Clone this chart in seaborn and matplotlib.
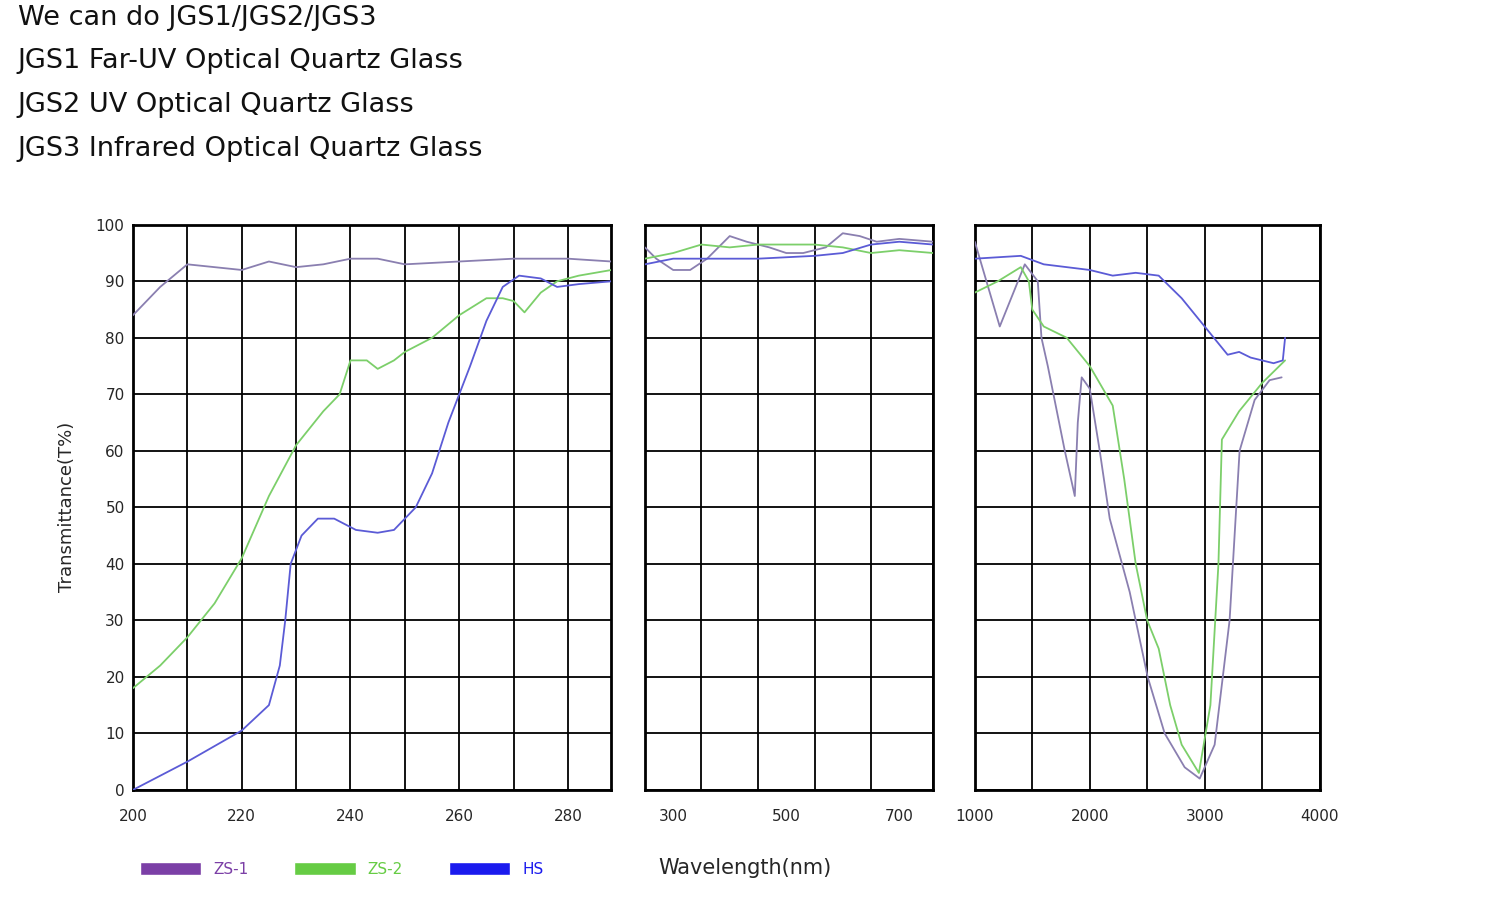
import matplotlib
matplotlib.use("Agg")
import matplotlib.pyplot as plt
import seaborn as sns
import pandas as pd
import numpy as np
from matplotlib.patches import Patch

sns.set_style("white")
plt.rcParams['font.family'] = ['DejaVu Sans']

# Panel 1 (200-288 nm)
p1_zs1_x = [200, 205, 210, 215, 220, 225, 230, 235, 240, 245, 250, 260, 270, 280, 288]
p1_zs1_y = [84, 89, 93, 92.5, 92, 93.5, 92.5, 93, 94, 94, 93, 93.5, 94, 94, 93.5]
p1_zs2_x = [200, 205, 210, 215, 220, 225, 230, 235, 238, 240, 243, 245, 248, 250, 255, 260, 265, 268, 270, 272, 275, 278, 282, 288]
p1_zs2_y = [18, 22, 27, 33, 41, 52, 61, 67, 70, 76, 76, 74.5, 76, 77.5, 80, 84, 87, 87, 86.5, 84.5, 88, 90, 91, 92]
p1_hs_x = [200, 210, 220, 225, 227, 228, 229, 231, 234, 237, 241, 245, 248, 252, 255, 258, 262, 265, 268, 271, 275, 278, 282, 288]
p1_hs_y = [0, 5, 10.5, 15, 22, 30, 40, 45, 48, 48, 46, 45.5, 46, 50, 56, 65, 75, 83, 89, 91, 90.5, 89, 89.5, 90]

# Panel 2 (250-760 nm)
p2_zs1_x = [250, 270, 300, 330, 360, 400, 430, 470, 500, 530, 570, 600, 630, 660, 700, 760]
p2_zs1_y = [96, 94, 92, 92, 94, 98, 97, 96, 95, 95, 96, 98.5, 98, 97, 97.5, 97]
p2_zs2_x = [250, 300, 350, 400, 450, 500, 550, 600, 650, 700, 760]
p2_zs2_y = [94, 95, 96.5, 96, 96.5, 96.5, 96.5, 96, 95, 95.5, 95]
p2_hs_x = [250, 300, 350, 450, 550, 600, 650, 700, 760]
p2_hs_y = [93, 94, 94, 94, 94.5, 95, 96.5, 97, 96.5]

# Panel 3 (1000-4000 nm)
p3_zs1_x = [1000, 1217, 1435, 1548, 1580, 1635, 1783, 1870, 1896, 1930, 2000, 2087, 2174, 2348, 2504, 2652, 2826, 2957, 3087, 3217, 3304, 3435, 3565, 3670]
p3_zs1_y = [97, 82, 93, 90, 80, 75, 60, 52, 65, 73, 71, 60, 48, 35, 20, 10, 4, 2, 8, 30, 60, 69, 72.5, 73]
p3_zs2_x = [1000, 1200, 1400, 1470, 1500, 1600, 1800, 2000, 2200, 2300, 2400, 2500, 2600, 2700, 2800, 2950, 3050, 3120, 3150, 3300, 3500, 3700]
p3_zs2_y = [88, 90, 92.5, 90, 85, 82, 80, 75, 68, 55, 40, 30, 25, 15, 8, 3, 15, 40, 62, 67, 72, 76]
p3_hs_x = [1000, 1400, 1600, 2000, 2200, 2400, 2600, 2800, 3000, 3200, 3300, 3400, 3600, 3680, 3700]
p3_hs_y = [94, 94.5, 93, 92, 91, 91.5, 91, 87, 82, 77, 77.5, 76.5, 75.5, 76, 80]

series = ["ZS-1", "ZS-2", "HS"]
colors = {"ZS-1": "#8a7fb0", "ZS-2": "#7ccf6a", "HS": "#5b5bd6"}
legend_colors = {"ZS-1": "#7b3fa6", "ZS-2": "#66cc44", "HS": "#1a1aee"}

panels = [
    [(p1_zs1_x, p1_zs1_y), (p1_zs2_x, p1_zs2_y), (p1_hs_x, p1_hs_y)],
    [(p2_zs1_x, p2_zs1_y), (p2_zs2_x, p2_zs2_y), (p2_hs_x, p2_hs_y)],
    [(p3_zs1_x, p3_zs1_y), (p3_zs2_x, p3_zs2_y), (p3_hs_x, p3_hs_y)],
]
xlims = [(200, 288), (250, 760), (1000, 4000)]
xgrids = [np.arange(200, 289, 10), [250, 350, 450, 550, 650, 760], np.arange(1000, 4001, 500)]
xticks = [[200, 220, 240, 260, 280], [300, 500, 700], [1000, 2000, 3000, 4000]]

fig = plt.figure(figsize=(14.86, 9.1), dpi=100)
rects = [(0.0895, 0.132, 0.322, 0.621), (0.434, 0.132, 0.194, 0.621), (0.656, 0.132, 0.232, 0.621)]

for i, (rect, pdata) in enumerate(zip(rects, panels)):
    ax = fig.add_axes(rect)
    rows = []
    for name, (xs, ys) in zip(series, pdata):
        for x, y in zip(xs, ys):
            rows.append({"x": x, "y": y, "s": name})
    df = pd.DataFrame(rows)
    sns.lineplot(data=df, x="x", y="y", hue="s", palette=colors, ax=ax,
                 legend=False, sort=False, linewidth=1.3, zorder=3)
    ax.set_xlim(*xlims[i])
    ax.set_ylim(0, 100)
    for g in xgrids[i]:
        ax.axvline(g, color="black", lw=1.3, zorder=1)
    for g in range(0, 101, 10):
        ax.axhline(g, color="black", lw=1.3, zorder=1)
    ax.set_xticks(xticks[i])
    ax.tick_params(axis="x", labelsize=11, length=0, pad=14)
    if i == 0:
        ax.set_yticks(range(0, 101, 10))
        ax.tick_params(axis="y", labelsize=11, length=0, pad=6)
        ax.set_ylabel("Transmittance(T%)", fontsize=13, labelpad=14)
    else:
        ax.set_yticks([])
        ax.set_ylabel("")
    ax.set_xlabel("")
    for sp in ax.spines.values():
        sp.set_color("black")
        sp.set_linewidth(2)

handles = [Patch(facecolor=legend_colors[s], label=s) for s in series]
leg = fig.legend(handles=handles, loc="center", bbox_to_anchor=(0.23, 0.045), ncol=3,
                 frameon=False, fontsize=11, handlelength=4, handleheight=1.0, columnspacing=3)
for t, s in zip(leg.get_texts(), series):
    t.set_color(legend_colors[s])
fig.text(0.501, 0.046, "Wavelength(nm)", fontsize=15, ha="center", va="center")

header = ["We can do JGS1/JGS2/JGS3", "JGS1 Far-UV Optical Quartz Glass",
          "JGS2 UV Optical Quartz Glass", "JGS3 Infrared Optical Quartz Glass"]
for k, line in enumerate(header):
    fig.text(0.012, 1 - (18 + 43.5 * k) / 910, line, fontsize=19.5, ha="left", va="center",
             color="#111111")

fig.savefig("out.png", dpi=100, facecolor="white")
